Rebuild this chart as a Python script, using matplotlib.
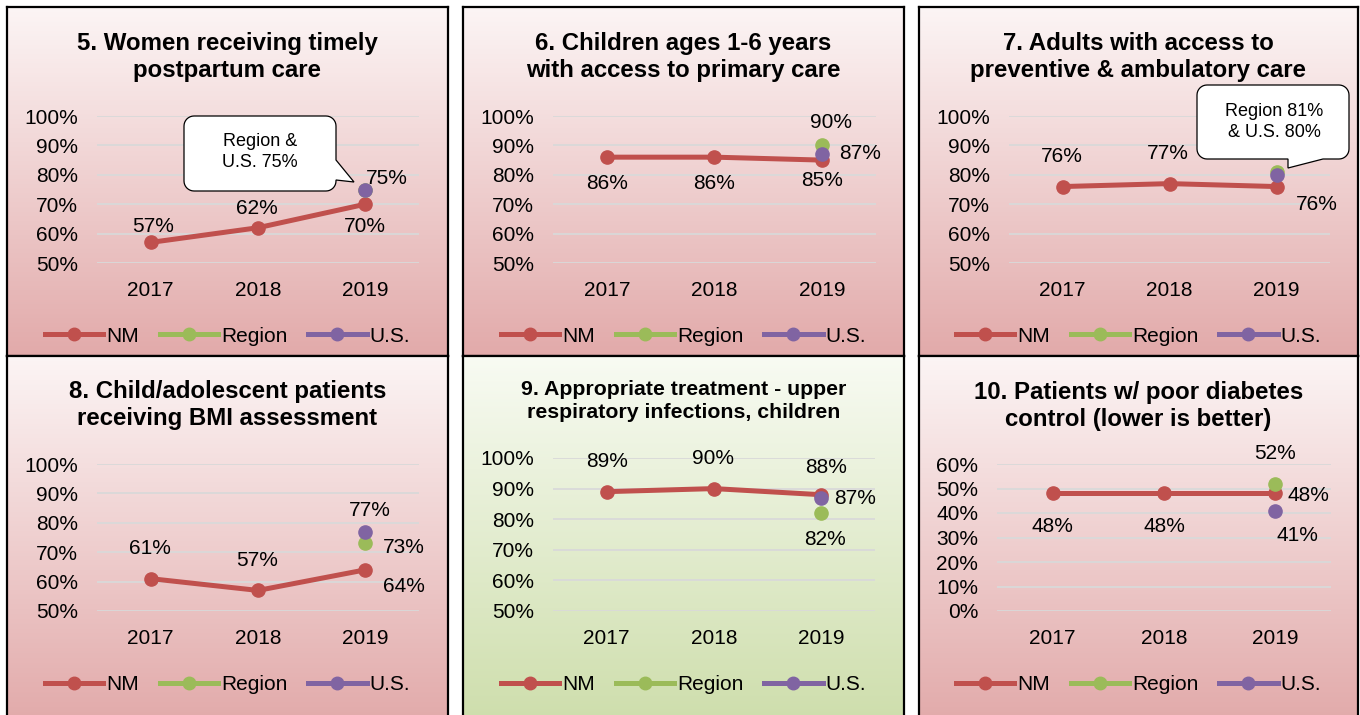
import matplotlib.pyplot as plt
import numpy as np
from matplotlib.lines import Line2D
from matplotlib.patches import Polygon
from matplotlib.transforms import Affine2D

plt.rcParams['font.family'] = ['Liberation Sans', 'DejaVu Sans']

W, H = 1360, 715

# Data
years = ['2017', '2018', '2019']
titles = ['5. Women receiving timely\npostpartum care',
          '6. Children ages 1-6 years\nwith access to primary care',
          '7. Adults with access to\npreventive & ambulatory care',
          '8. Child/adolescent patients\nreceiving BMI assessment',
          '9. Appropriate treatment - upper\nrespiratory infections, children',
          '10. Patients w/ poor diabetes\ncontrol (lower is better)']
nm = [[57, 62, 70], [86, 86, 85], [76, 77, 76],
      [61, 57, 64], [89, 90, 88], [48, 48, 48]]
region_2019 = [75, 90, 81, 73, 82, 52]
us_2019 = [75, 87, 80, 77, 87, 41]
y_min = [50, 50, 50, 50, 50, 0]
y_max = [100, 100, 100, 100, 100, 60]
callout_text = ['Region &\nU.S. 75%', None, 'Region 81%\n& U.S. 80%', None, None, None]

# label offsets (pixels, y down): (series, index, dx, dy)
label_pos = [
    [('nm', 0, 2, -16), ('nm', 1, -1, -19), ('nm', 2, 0, 22), ('us', 2, 21, -11)],
    [('nm', 0, 0, 26), ('nm', 1, 0, 26), ('nm', 2, 0, 20), ('reg', 2, 9, -23), ('us', 2, 38, -1)],
    [('nm', 0, -1, -30), ('nm', 1, -2, -30), ('nm', 2, 40, 18)],
    [('nm', 0, -1, -30), ('nm', 1, -1, -30), ('nm', 2, 39, 17), ('us', 2, 4, -21), ('reg', 2, 38, 4)],
    [('nm', 0, 0, -30), ('nm', 1, -1, -30), ('nm', 2, 5, -27), ('us', 2, 34, 1), ('reg', 2, 4, 26)],
    [('nm', 0, 0, 33), ('nm', 1, 0, 33), ('nm', 2, 33, 2), ('reg', 2, 0, -30), ('us', 2, 22, 25)],
]

# layout in pixels
frames = [(7, 7, 448, 356), (463, 7, 904, 356), (919, 7, 1358, 356),
          (7, 356, 448, 722), (463, 356, 904, 722), (919, 356, 1358, 722)]
areas = [(97, 116, 419, 263), (553, 116, 876, 263), (1009, 116, 1330, 263),
         (97, 464, 419, 611), (553, 458, 875, 611), (997, 464, 1331, 611)]
title_y = [57, 57, 57, 405, 401, 406]
title_size = [17.3, 17.3, 17.3, 17.3, 15.3, 17.3]
legend_y = [336, 336, 336, 685, 685, 685]

NM_C = '#c0504d'
REG_C = '#9bbb59'
US_C = '#8064a2'
pink = ((252, 245, 245), (226, 170, 170))
green = ((248, 251, 243), (206, 222, 172))

fig = plt.figure(figsize=(13.6, 7.15), dpi=100)
pix = Affine2D().scale(1 / W, -1 / H).translate(0, 1) + fig.transFigure


def rect(x0, y0, x1, y1):
    return [x0 / W, 1 - y1 / H, (x1 - x0) / W, (y1 - y0) / H]


def bubble(x0, y0, x1, y1, r, edge, base_a, tip, base_b):
    pts = []

    def arc(cx, cy, a0, a1):
        for t in np.radians(np.linspace(a0, a1, 9)):
            pts.append((cx + r * np.cos(t), cy + r * np.sin(t)))
    arc(x1 - r, y0 + r, -90, 0)
    if edge == 'right':
        pts.extend([base_a, tip, base_b])
    arc(x1 - r, y1 - r, 0, 90)
    if edge == 'bottom':
        pts.extend([base_a, tip, base_b])
    arc(x0 + r, y1 - r, 90, 180)
    arc(x0 + r, y0 + r, 180, 270)
    return pts


# backgrounds
for k, (x0, y0, x1, y1) in enumerate(frames):
    bg = fig.add_axes(rect(x0, y0, x1, y1))
    top, bot = green if k == 4 else pink
    g = np.linspace(0, 1, 256)[:, None, None]
    img = (np.array(top) * (1 - g) + np.array(bot) * g) / 255
    bg.imshow(img, aspect='auto', extent=[0, 1, 0, 1])
    bg.set_xticks([])
    bg.set_yticks([])
    for s in bg.spines.values():
        s.set_linewidth(1.6)
        s.set_color('black')

x = np.arange(3)
for k in range(6):
    ax = fig.add_axes(rect(*areas[k]))
    ax.patch.set_alpha(0)
    reg = [np.nan, np.nan, region_2019[k]]
    us = [np.nan, np.nan, us_2019[k]]
    ax.plot(x, nm[k], color=NM_C, lw=3.6, marker='o', ms=9.5, zorder=3, clip_on=False)
    ax.plot(x, reg, color=REG_C, lw=3.6, marker='o', ms=9.5, zorder=4, clip_on=False)
    ax.plot(x, us, color=US_C, lw=3.6, marker='o', ms=9.5, zorder=5, clip_on=False)
    ax.set_xlim(-0.5, 2.5)
    ax.set_ylim(y_min[k], y_max[k])
    ticks = list(range(y_min[k], y_max[k] + 1, 10))
    ax.set_yticks(ticks)
    ax.set_yticklabels([f'{t}%' for t in ticks])
    ax.set_xticks(x)
    ax.set_xticklabels(years)
    ax.tick_params(length=0, labelsize=15)
    ax.tick_params(axis='y', pad=13.5)
    ax.tick_params(axis='x', pad=13)
    ax.grid(axis='y', color='#d9d9d9', lw=1.3)
    ax.set_axisbelow(True)
    for s in ax.spines.values():
        s.set_visible(False)

    series = {'nm': nm[k], 'reg': reg, 'us': us}
    for name, i, dx, dy in label_pos[k]:
        v = series[name][i]
        ax.annotate(f'{v}%', xy=(i, v), xytext=(dx * 0.72, -dy * 0.72),
                    textcoords='offset points', ha='center', va='center',
                    fontsize=15, zorder=6)

    fx0, fy0, fx1, fy1 = frames[k]
    fig.text(((fx0 + fx1) / 2) / W, 1 - title_y[k] / H, titles[k], ha='center', va='center',
             fontsize=title_size[k], fontweight='bold', linespacing=1.25)

    handles = [Line2D([], [], color=c, lw=3.6, marker='o', ms=9) for c in (NM_C, REG_C, US_C)]
    fig.legend(handles, ['NM', 'Region', 'U.S.'], loc='center',
               bbox_to_anchor=(((fx0 + fx1) / 2) / W, 1 - legend_y[k] / H),
               ncol=3, frameon=False, fontsize=15, handlelength=2.8,
               handletextpad=0.15, columnspacing=1.0, borderaxespad=0, borderpad=0)

# callouts
pts5 = bubble(184, 116, 336, 191, 10, 'right', (336, 160), (354, 182), (336, 180))
fig.patches.append(Polygon(pts5, closed=True, transform=pix, fc='white', ec='black', lw=0.9, zorder=10))
fig.text(260 / W, 1 - 152 / H, callout_text[0], ha='center', va='center', fontsize=13,
         linespacing=1.3, zorder=11)

pts7 = bubble(1197, 85, 1349, 159, 10, 'bottom', (1323, 159), (1288, 168), (1288, 159))
fig.patches.append(Polygon(pts7, closed=True, transform=pix, fc='white', ec='black', lw=0.9, zorder=10))
fig.text(1274 / W, 1 - 122 / H, callout_text[2], ha='center', va='center', fontsize=13,
         linespacing=1.3, zorder=11)

fig.savefig('out.png', dpi=100)
